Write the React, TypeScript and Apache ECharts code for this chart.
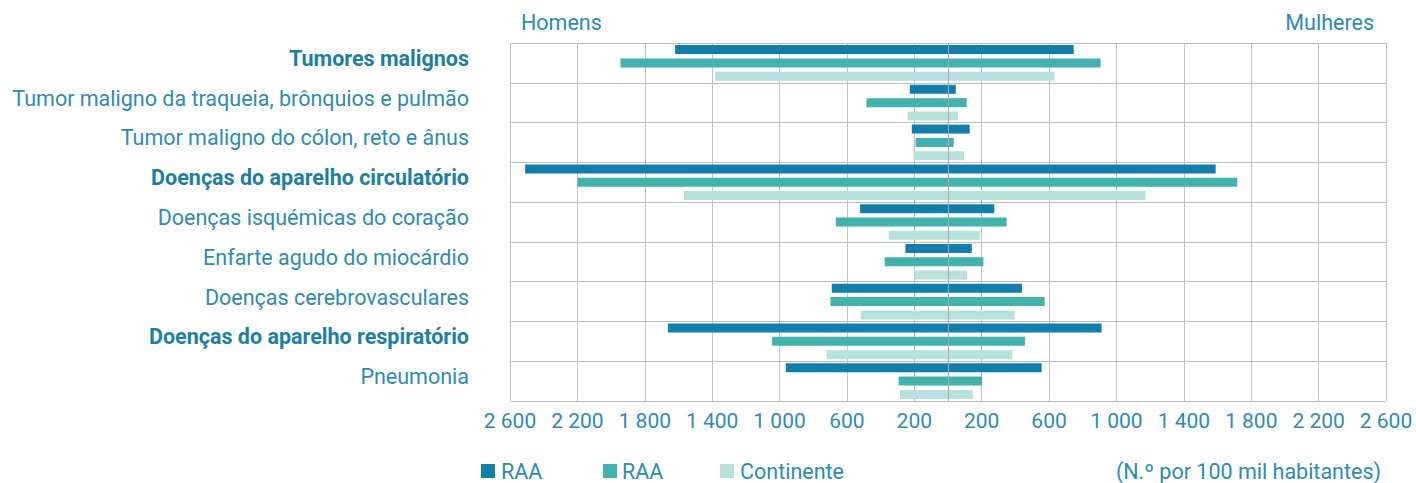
import React, { useEffect, useRef } from "react";
import * as echarts from "echarts";

const categories = [
  "Tumores malignos",
  "Tumor maligno da traqueia, brônquios e pulmão",
  "Tumor maligno do cólon, reto e ânus",
  "Doenças do aparelho circulatório",
  "Doenças isquémicas do coração",
  "Enfarte agudo do miocárdio",
  "Doenças cerebrovasculares",
  "Doenças do aparelho respiratório",
  "Pneumonia",
];
const boldCategories = [
  "Tumores malignos",
  "Doenças do aparelho circulatório",
  "Doenças do aparelho respiratório",
];

// Homens (men) – shown to the left
const menRAA1 = [1620, 227, 215, 2510, 522, 253, 690, 1663, 963];
const menRAA2 = [1944, 484, 192, 2200, 666, 376, 698, 1044, 293];
const menCont = [1383, 239, 204, 1567, 352, 200, 518, 720, 285];
// Mulheres (women) – shown to the right
const womenRAA1 = [746, 46, 129, 1589, 275, 141, 439, 912, 556];
const womenRAA2 = [906, 111, 34, 1717, 348, 210, 574, 457, 202];
const womenCont = [633, 59, 95, 1173, 188, 113, 396, 382, 147];

const legendNames = ["RAA", "RAA", "Continente"];
const colors = ["#117fad", "#41b3ae", "#b7e1dd"];

const FONT = "Roboto, 'Noto Sans', sans-serif";
const TXT = "#2a8bbd";
const BOLD = "#1b7fa7";
const FS = 21.5;

const fmt = (v: number) =>
  String(Math.abs(v)).replace(/\B(?=(\d{3})+(?!\d))/g, " ");

export default function App() {
  const ref = useRef<HTMLDivElement>(null);
  useEffect(() => {
    if (!ref.current) return;
    const chart = echarts.init(ref.current, undefined, { renderer: "svg" });
    const mk = (name: string, stack: string, color: string, data: number[], extra: any = {}) => ({
      name,
      type: "bar",
      stack,
      data,
      barWidth: 9,
      barGap: "48%",
      itemStyle: { color },
      ...extra,
    });
    const neg = (a: number[]) => a.map((v) => -v);
    chart.setOption({
      animation: false,
      textStyle: { fontFamily: FONT },
      grid: { left: 510, right: 30, top: 43, bottom: 82, containLabel: false },
      xAxis: {
        type: "value",
        min: -2600,
        max: 2600,
        interval: 400,
        axisLine: { show: false },
        axisTick: { show: false },
        axisLabel: {
          formatter: fmt,
          fontSize: 21,
          color: TXT,
          fontFamily: FONT,
          margin: 9,
        },
        splitLine: { show: true, lineStyle: { color: "#c2c2c2", width: 1 } },
      },
      yAxis: {
        type: "category",
        data: categories,
        inverse: true,
        axisLine: { show: false },
        axisTick: { show: false },
        splitLine: { show: true, lineStyle: { color: "#bdbdbd", width: 1 } },
        axisLabel: {
          margin: 41,
          fontFamily: FONT,
          formatter: (v: string) =>
            boldCategories.includes(v) ? `{b|${v}}` : `{n|${v}}`,
          rich: {
            b: { fontSize: FS, fontWeight: "bold", color: BOLD, fontFamily: FONT, padding: [0, 0, 9, 0] },
            n: { fontSize: FS, color: TXT, fontFamily: FONT, padding: [0, 0, 9, 0] },
          },
        },
      },
      series: [
        mk(legendNames[0], "a", colors[0], neg(menRAA1)),
        mk(legendNames[1] + " 2", "b", colors[1], neg(menRAA2)),
        mk(legendNames[2], "c", colors[2], neg(menCont)),
        mk(legendNames[0] + " w", "a", colors[0], womenRAA1),
        mk(legendNames[1] + " w2", "b", colors[1], womenRAA2),
        mk(legendNames[2] + " w", "c", colors[2], womenCont, {
          markLine: {
            silent: true,
            symbol: "none",
            z: 10,
            label: { show: false },
            lineStyle: { color: "#a9a9a9", type: "solid", width: 1 },
            data: [{ xAxis: 0 }],
          },
        }),
      ],
      graphic: [
        { type: "text", left: 521, top: 11, style: { text: "Homens", fontSize: FS, fill: TXT, fontFamily: FONT } },
        { type: "text", right: 42, top: 11, style: { text: "Mulheres", fontSize: FS, fill: TXT, fontFamily: FONT } },
        { type: "rect", shape: { x: 481, y: 464, width: 14, height: 14 }, style: { fill: colors[0] } },
        { type: "text", x: 501, y: 471, style: { text: legendNames[0], fontSize: FS, fill: TXT, fontFamily: FONT, verticalAlign: "middle" } },
        { type: "rect", shape: { x: 603, y: 464, width: 14, height: 14 }, style: { fill: colors[1] } },
        { type: "text", x: 622, y: 471, style: { text: legendNames[1], fontSize: FS, fill: TXT, fontFamily: FONT, verticalAlign: "middle" } },
        { type: "rect", shape: { x: 720, y: 464, width: 14, height: 14 }, style: { fill: colors[2] } },
        { type: "text", x: 740, y: 471, style: { text: legendNames[2], fontSize: FS, fill: TXT, fontFamily: FONT, verticalAlign: "middle" } },
        { type: "text", x: 1381, y: 471, style: { text: "(N.º por 100 mil habitantes)", fontSize: FS, fill: TXT, fontFamily: FONT, align: "right", verticalAlign: "middle" } },
      ],
    });
    return () => chart.dispose();
  }, []);
  return (
    <div
      ref={ref}
      style={{ position: "fixed", left: 0, top: 0, width: 1416, height: 483, background: "#fff" }}
    />
  );
}
